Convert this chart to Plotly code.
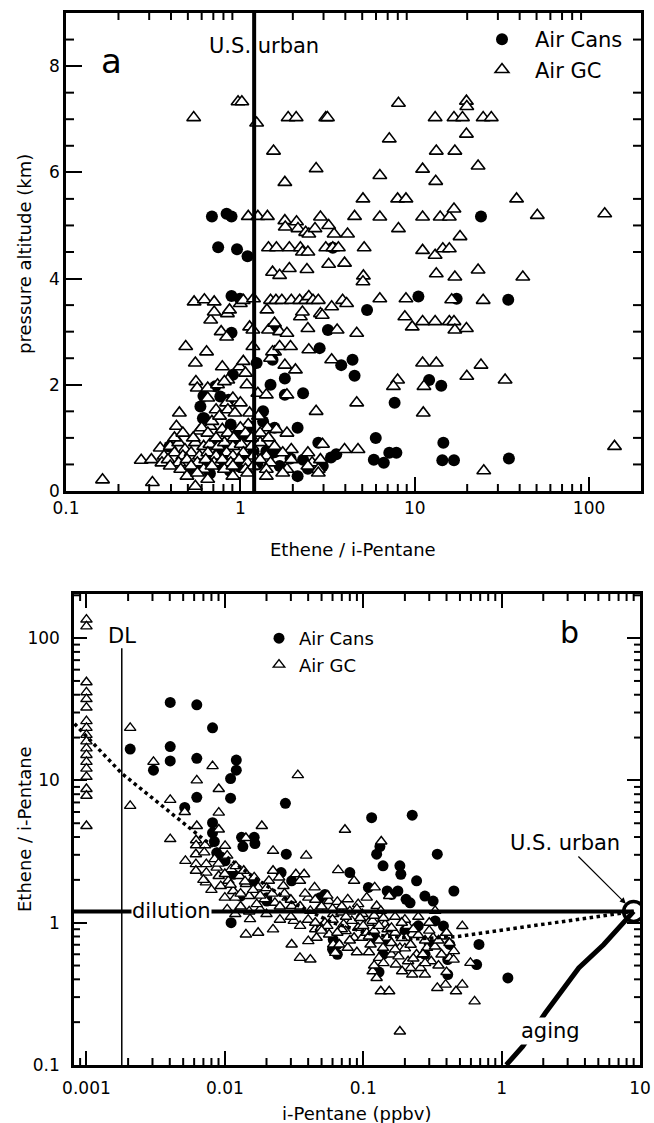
import math
import plotly.graph_objects as go

# ---------------- Panel a: pressure altitude vs Ethene / i-Pentane ----------------
a_cans = [
    (0.687, 5.17), (0.834, 5.22), (0.89, 5.17), (0.746, 4.59), (0.957, 4.55), (1.10, 4.42), (3.39, 4.58), (24.0, 5.17),
    (0.392, 0.84), (0.59, 1.59), (0.61, 1.37), (0.62, 1.37), (0.614, 1.79), (0.718, 1.97), (0.767, 1.78), (0.881, 1.25),
    (0.857, 1.72), (0.906, 2.19), (0.89, 3.67), (0.995, 3.62), (0.89, 2.98), (0.955, 1.06), (1.10, 1.03), (1.13, 1.22),
    (1.24, 2.41), (1.35, 1.50), (1.35, 1.31), (1.49, 2.00), (1.53, 2.47), (1.59, 3.06), (1.57, 1.19), (1.80, 2.12),
    (1.80, 1.81), (2.13, 1.19), (2.29, 1.84), (2.85, 2.69), (3.18, 3.03), (3.79, 2.37), (4.40, 2.47), (4.52, 2.17),
    (5.33, 3.41), (10.5, 3.66), (17.4, 3.62), (34.4, 3.60), (7.67, 1.66), (12.1, 2.09), (14.2, 1.98), (5.98, 1.00),
    (14.6, 0.91), (5.83, 0.59), (6.65, 0.53), (7.15, 0.72), (7.85, 0.72), (14.4, 0.58), (16.8, 0.58), (34.7, 0.61),
    (0.508, 0.34), (0.583, 0.41), (0.669, 0.33), (0.767, 0.50), (0.847, 0.66), (0.93, 0.59), (1.04, 0.59), (1.19, 0.75),
    (1.41, 0.75), (1.57, 0.73), (1.68, 0.47), (1.94, 0.61), (2.13, 0.28), (2.29, 0.59), (2.44, 0.42), (2.88, 0.53),
    (2.97, 0.47), (3.31, 0.63), (3.55, 0.69), (2.80, 0.91), (0.70, 0.90), (0.80, 0.80), (0.95, 0.95), (0.66, 0.56),
    (0.75, 0.70), (1.00, 0.45), (0.87, 0.38), (1.25, 0.50),
]

a_gc = [
    # upper layers
    (0.54, 7.03), (0.97, 7.33), (1.02, 7.33), (1.24, 6.93), (1.55, 6.40), (1.80, 5.81), (1.88, 7.03), (2.09, 7.03),
    (2.72, 6.07), (3.09, 7.03), (3.16, 7.03), (1.11, 5.17), (1.26, 5.17), (1.43, 5.17), (1.80, 5.09), (2.10, 5.07),
    (2.14, 4.94), (2.37, 4.87), (2.47, 4.84), (2.68, 4.94), (2.88, 5.16), (3.21, 5.00), (3.45, 4.84), (4.12, 4.84),
    (4.52, 5.17), (5.05, 5.50), (1.81, 4.97), (1.45, 4.58), (1.61, 4.58), (1.91, 4.58), (2.21, 4.58), (2.27, 4.50),
    (2.44, 4.50), (3.09, 4.58), (3.39, 4.58), (3.65, 4.58), (5.13, 4.58), (1.53, 4.12), (1.68, 4.06), (1.91, 4.19),
    (2.41, 4.17), (3.21, 4.27), (3.96, 4.29), (5.08, 4.05), (6.31, 5.94), (7.15, 6.63), (8.07, 7.30), (7.98, 5.50),
    (8.91, 5.50), (8.07, 4.94), (6.31, 5.16), (11.1, 6.06), (13.1, 7.03), (13.3, 6.40), (13.2, 5.83), (11.1, 5.16),
    (14.0, 5.16), (15.8, 5.16), (16.8, 5.31), (11.1, 4.53), (13.1, 4.44), (14.5, 4.56), (15.8, 4.56), (18.2, 4.79),
    (16.8, 7.03), (18.8, 7.03), (19.8, 7.34), (19.9, 7.24), (24.7, 7.03), (27.5, 7.03), (19.8, 6.72), (17.0, 6.40),
    (23.1, 6.12), (38.4, 5.50), (50.5, 5.19), (123.0, 5.22), (13.3, 4.09), (23.1, 4.16), (17.0, 4.03), (41.7, 4.03),
    (5.05, 3.94),
    # middle layers
    (0.162, 0.21), (0.27, 0.58), (0.313, 0.16), (0.347, 0.81), (0.43, 1.22), (0.447, 1.47), (0.486, 2.72), (0.552, 2.41),
    (0.556, 2.06), (0.543, 3.56), (0.622, 3.60), (0.708, 3.56), (0.64, 2.62), (0.676, 3.22), (0.708, 3.37), (0.776, 3.00),
    (0.834, 2.90), (0.843, 3.34), (0.867, 3.41), (0.788, 2.34), (0.847, 2.09), (1.00, 3.53), (1.04, 3.59), (1.19, 3.62),
    (0.99, 2.34), (1.04, 2.44), (1.07, 2.22), (1.09, 2.00), (1.13, 3.09), (1.18, 3.03), (1.18, 2.72), (1.42, 3.41),
    (1.45, 3.03), (1.49, 3.59), (1.57, 3.16), (1.68, 3.00), (1.57, 2.62), (1.60, 3.59), (1.73, 3.59), (1.85, 2.97),
    (1.96, 3.59), (2.19, 3.59), (2.37, 3.59), (2.47, 3.66), (2.61, 3.59), (2.80, 3.59), (2.88, 3.34), (2.95, 3.31),
    (3.34, 3.47), (3.59, 3.03), (3.86, 3.59), (4.07, 3.53), (4.65, 2.97), (1.26, 1.84), (1.41, 1.81), (1.49, 2.50),
    (1.53, 2.62), (1.68, 2.72), (1.80, 2.37), (1.85, 1.81), (1.94, 2.72), (2.07, 2.28), (2.21, 3.28), (2.27, 3.37),
    (2.44, 3.06), (2.47, 2.66), (2.72, 1.50), (3.34, 2.47), (3.96, 0.78), (4.65, 1.66), (4.73, 0.78), (6.31, 3.62),
    (8.91, 3.62), (8.78, 3.28), (9.68, 3.09), (11.1, 3.19), (13.1, 3.19), (15.8, 3.19), (16.8, 3.19), (17.0, 3.03),
    (19.8, 3.06), (24.7, 3.59), (16.3, 3.60), (7.98, 2.09), (7.55, 1.97), (11.1, 2.41), (11.3, 1.97), (13.3, 2.41),
    (19.9, 2.16), (24.0, 2.37), (33.0, 2.09), (11.2, 1.47), (24.9, 0.38), (140.0, 0.84),
    (0.58, 1.13), (0.67, 1.22), (0.687, 1.31), (0.726, 1.53), (0.76, 1.41), (0.834, 1.66), (0.848, 1.53), (0.906, 1.75),
    (0.931, 1.47), (1.00, 1.66), (1.11, 1.25), (1.13, 1.47), (1.27, 1.41), (1.43, 1.19), (0.566, 1.94), (0.65, 1.94),
    (0.74, 2.00), (0.81, 2.06), (0.65, 1.75),
    # boundary-layer cluster
    (0.396, 0.84), (0.443, 0.91), (0.481, 0.78), (0.552, 0.91), (0.616, 0.84), (0.669, 0.88), (0.746, 0.84), (0.81, 0.91),
    (0.906, 0.84), (1.01, 0.88), (1.16, 0.84), (1.30, 0.91), (1.57, 0.84), (1.96, 0.78), (2.96, 0.88),
    (0.365, 0.66), (0.419, 0.72), (0.468, 0.66), (0.522, 0.72), (0.583, 0.66), (0.651, 0.72), (0.726, 0.66), (0.834, 0.72),
    (0.906, 0.66), (1.04, 0.72), (1.19, 0.66), (1.41, 0.66), (1.75, 0.72), (2.44, 0.72),
    (0.309, 0.59), (0.355, 0.53), (0.385, 0.59), (0.443, 0.53), (0.494, 0.59), (0.567, 0.53), (0.633, 0.59), (0.706, 0.53),
    (0.788, 0.59), (0.881, 0.53), (0.984, 0.59), (1.10, 0.53), (1.30, 0.59), (1.49, 0.53), (1.96, 0.59), (2.58, 0.53),
    (2.88, 0.59),
    (0.396, 0.47), (0.455, 0.41), (0.522, 0.47), (0.616, 0.41), (0.687, 0.47), (0.81, 0.41), (0.906, 0.47), (1.07, 0.41),
    (1.19, 0.47), (1.41, 0.41), (1.85, 0.41), (2.44, 0.47), (2.80, 0.41),
    (0.494, 0.28), (0.567, 0.34), (0.906, 0.28), (1.10, 0.34), (1.41, 0.28), (2.80, 0.34), (0.65, 0.22), (1.75, 0.34),
    (0.552, 0.09),
    (0.419, 1.00), (0.468, 1.09), (0.537, 1.00), (0.60, 1.19), (0.651, 1.09), (0.726, 1.00), (0.788, 1.16), (0.848, 1.09),
    (0.916, 1.00), (1.00, 1.19), (1.07, 1.09), (1.16, 1.00), (1.30, 1.09), (1.45, 1.00), (1.61, 1.16), (1.85, 1.09),
]

us_urban_ratio = 1.2          # Ethene / i-Pentane in U.S. urban air
a_alt_range = [0, 9]          # km
a_x_range_log = [-1, 2.298]
a_x_minor = [m * d for d in (0.1, 1, 10, 100) for m in range(2, 10)]
a_y_minor = [i * 0.5 for i in range(1, 18) if i % 4 != 0]

# ---------------- Panel b: Ethene / i-Pentane vs i-Pentane ----------------
b_cans = [
    (0.00207, 16.6), (0.00305, 11.8), (0.00403, 35.3), (0.00403, 17.3), (0.00403, 13.7), (0.00627, 34.0), (0.00627, 14.3),
    (0.00513, 6.46), (0.00627, 7.6), (0.00815, 23.4), (0.011, 10.3), (0.011, 7.5), (0.0121, 13.9), (0.0121, 11.8),
    (0.00815, 5.04), (0.00815, 4.28), (0.0084, 3.72), (0.0135, 3.43), (0.0165, 3.6), (0.0274, 6.9), (0.115, 5.47),
    (0.226, 5.7), (0.132, 3.43),
    (0.0132, 3.98), (0.0163, 3.98), (0.00873, 3.1), (0.00903, 2.85), (0.01004, 2.72), (0.0115, 2.19), (0.013, 1.54),
    (0.0163, 1.97), (0.0201, 1.42), (0.0255, 2.25), (0.0278, 3.03), (0.0304, 1.97), (0.0487, 1.50), (0.0607, 0.761),
    (0.065, 0.703), (0.08, 2.25), (0.109, 1.77), (0.125, 3.03), (0.139, 2.51), (0.149, 1.67), (0.16, 1.58), (0.178, 1.67),
    (0.184, 2.51), (0.187, 2.19), (0.204, 1.46), (0.218, 1.38), (0.243, 1.97), (0.279, 1.54), (0.32, 1.42), (0.343, 3.03),
    (0.452, 1.67), (0.331, 1.03), (0.38, 0.947), (0.422, 0.703), (0.408, 0.551), (0.408, 0.432), (0.686, 0.703),
    (0.66, 0.508), (1.11, 0.409), (0.0111, 1.0), (0.139, 0.598), (0.0529, 1.58), (0.0201, 1.50),
    (0.06, 0.65), (0.065, 0.6), (0.13, 0.45), (0.25, 0.95), (0.28, 0.6), (0.12, 0.8), (0.15, 0.75), (0.2, 0.88), (0.3, 0.7),
]

b_gc = [
    # at detection limit column
    (0.001, 135), (0.001, 121), (0.001, 49), (0.001, 41.6), (0.001, 37.3), (0.001, 32.5), (0.001, 26.1), (0.001, 23.4),
    (0.001, 20.9), (0.001, 18.8), (0.001, 16.8), (0.001, 15.1), (0.001, 13.5), (0.001, 12.1), (0.001, 10.6), (0.001, 8.7),
    (0.001, 7.8), (0.001, 4.78),
    (0.00207, 23.4), (0.00207, 6.62), (0.00305, 13.5), (0.00403, 7.3), (0.00403, 3.87), (0.00513, 6.0), (0.00627, 10.0),
    (0.00627, 4.78), (0.00815, 12.6), (0.00904, 8.7), (0.00904, 5.94), (0.00904, 4.52), (0.0142, 3.94), (0.0185, 4.78),
    (0.0337, 10.9), (0.0738, 4.5), (0.135, 3.72), (0.0062, 3.8), (0.0062, 3.5), (0.0072, 3.5),
    # upper-left branch
    (0.00519, 2.72), (0.00618, 3.03), (0.00618, 2.58), (0.00618, 2.32), (0.0071, 3.12), (0.00735, 2.58), (0.00735, 2.25),
    (0.0073, 1.92), (0.00843, 2.80), (0.00873, 2.44), (0.00903, 2.13), (0.00934, 1.81), (0.01004, 3.47), (0.0104, 2.96),
    (0.0106, 1.97), (0.0111, 2.38), (0.0115, 1.67), (0.0119, 1.50), (0.0128, 2.13), (0.0137, 2.32), (0.0142, 1.87),
    (0.015, 1.54), (0.0163, 2.08), (0.0174, 1.77), (0.018, 1.24), (0.0194, 1.46), (0.0208, 1.97), (0.0223, 3.2),
    (0.0223, 2.32), (0.023, 1.38), (0.0247, 2.08), (0.0265, 1.81), (0.0284, 1.50), (0.0304, 1.31), (0.0315, 1.03),
    (0.0326, 2.19), (0.0349, 1.97), (0.0387, 2.96), (0.0374, 2.19), (0.0401, 1.50), (0.0415, 1.21), (0.0445, 1.77),
    (0.0477, 1.24), (0.0529, 1.0), (0.0567, 1.42), (0.0607, 1.15), (0.0659, 2.34), (0.0697, 1.18), (0.0721, 0.973),
    (0.0773, 1.46), (0.0828, 1.03), (0.0859, 1.97), (0.0919, 1.35), (0.0985, 1.15), (0.106, 1.50), (0.109, 1.0),
    (0.117, 1.03), (0.121, 1.77), (0.125, 1.31), (0.134, 1.21), (0.144, 0.973), (0.154, 1.54),
    (0.0142, 0.827), (0.0174, 0.85), (0.0223, 0.897), (0.0152, 1.06), (0.0104, 1.24), (0.0119, 1.15),
    (0.007, 2.0), (0.008, 1.7), (0.009, 2.6), (0.01, 2.2), (0.011, 1.85), (0.012, 2.5), (0.013, 1.6), (0.014, 1.95),
    (0.016, 1.7), (0.018, 1.55), (0.02, 1.75), (0.022, 1.6), (0.025, 1.3), (0.027, 1.6), (0.03, 1.45), (0.035, 1.3),
    (0.038, 1.6), (0.045, 1.45), (0.05, 1.3), (0.055, 1.55), (0.06, 1.25), (0.065, 1.4), (0.07, 1.3), (0.08, 1.2),
    (0.09, 1.25), (0.01, 1.5), (0.013, 1.3), (0.015, 1.2), (0.017, 1.35), (0.02, 1.15), (0.025, 1.05), (0.03, 1.1),
    (0.035, 0.95), (0.04, 1.05), (0.045, 0.9),
    # lower cluster
    (0.0304, 0.703), (0.0349, 0.566), (0.0415, 0.551), (0.0401, 0.742), (0.046, 0.784), (0.0494, 0.922), (0.0567, 0.827),
    (0.0607, 0.703), (0.0628, 0.614), (0.0672, 0.703), (0.0746, 0.873), (0.0773, 0.666), (0.0859, 0.784), (0.0919, 0.922),
    (0.0985, 0.784), (0.106, 0.85), (0.113, 0.703), (0.117, 0.456), (0.125, 0.409), (0.13, 0.566), (0.134, 0.33),
    (0.154, 0.33), (0.139, 0.666), (0.149, 0.784), (0.16, 0.598), (0.172, 0.508), (0.184, 0.666), (0.191, 0.456),
    (0.204, 0.784), (0.211, 0.536), (0.226, 0.432), (0.243, 0.598), (0.26, 0.481), (0.279, 0.432), (0.289, 0.666),
    (0.31, 0.536), (0.32, 0.784), (0.331, 1.21), (0.343, 0.348), (0.368, 0.598), (0.394, 0.367), (0.422, 0.566),
    (0.452, 0.631), (0.468, 0.33), (0.52, 0.947), (0.52, 0.367), (0.595, 0.522), (0.638, 0.28), (0.184, 0.172),
    (0.07, 0.9), (0.08, 0.75), (0.09, 0.62), (0.1, 0.95), (0.11, 0.62), (0.12, 0.88), (0.13, 0.75), (0.14, 0.52),
    (0.15, 0.9), (0.16, 0.72), (0.17, 0.85), (0.18, 0.58), (0.19, 0.78), (0.2, 0.66), (0.21, 0.95), (0.22, 0.7),
    (0.23, 0.56), (0.25, 0.82), (0.27, 0.6), (0.28, 0.75), (0.3, 0.88), (0.33, 0.68), (0.35, 0.5), (0.38, 0.8),
    (0.4, 0.45), (0.42, 0.72), (0.45, 0.55), (0.06, 1.05), (0.075, 1.1), (0.095, 1.08), (0.12, 1.12), (0.14, 1.08),
    (0.17, 1.1), (0.2, 1.05), (0.25, 1.1), (0.3, 1.0), (0.11, 0.8), (0.13, 0.95), (0.16, 0.92), (0.19, 1.0), (0.23, 0.9),
    (0.055, 0.95), (0.065, 0.85), (0.045, 1.0), (0.05, 0.88), (0.12, 0.5), (0.17, 0.65), (0.22, 0.48), (0.28, 0.52),
    (0.35, 0.75), (0.4, 0.85),
]

us_urban_ipentane = 9.0       # ppbv
dl_ipentane = 0.0018          # detection limit, ppbv
dl_line_top = 85
mix_x = [0.00082, 0.0018, 0.0066, 0.015, 0.03, 0.06, 0.12, 0.25, 0.48, 9.0]
mix_y = [25.0, 11.2, 4.05, 2.2, 1.4, 1.0, 0.82, 0.77, 0.80, 1.2]
aging_x = [1.08, 1.42, 2.07, 3.61, 5.47, 7.74, 9.0]
aging_y = [0.10, 0.135, 0.232, 0.481, 0.703, 1.03, 1.2]
b_x_range_log = [-3.09, 1.0]
b_y_range_log = [-1.0, 2.31]
b_x_minor = [m * d for d in (0.0001, 0.001, 0.01, 0.1, 1) for m in range(2, 10)]
b_y_minor = [m * d for d in (0.1, 1, 10, 100) for m in range(2, 10)]

# ---------------- figure ----------------
W, H = 654, 1123
FONT = "DejaVu Sans"
A_BOX = (66, 641, 13, 491)     # left, right, top, bottom (px)
B_BOX = (74, 640, 594, 1065)


def px(x):
    return x / W


def py(y):
    return 1 - y / H


def xs(pts):
    return [p[0] for p in pts]


def ys(pts):
    return [p[1] for p in pts]


fig = go.Figure()

circ_a = dict(symbol="circle", size=12, color="black", line=dict(width=0))
tri_a = dict(symbol="triangle-up", size=12, color="white", line=dict(color="black", width=1.6))
circ_b = dict(symbol="circle", size=11, color="black", line=dict(width=0))
tri_b = dict(symbol="triangle-up", size=10, color="white", line=dict(color="black", width=1.4))

fig.add_trace(go.Scatter(x=xs(a_cans), y=ys(a_cans), mode="markers", marker=circ_a, name="Air Cans",
                         xaxis="x", yaxis="y", legend="legend"))
fig.add_trace(go.Scatter(x=xs(a_gc), y=ys(a_gc), mode="markers", marker=tri_a, name="Air GC",
                         xaxis="x", yaxis="y", legend="legend"))
fig.add_trace(go.Scatter(x=[us_urban_ratio, us_urban_ratio], y=a_alt_range, mode="lines",
                         line=dict(color="black", width=4), showlegend=False, xaxis="x", yaxis="y"))

fig.add_trace(go.Scatter(x=xs(b_cans), y=ys(b_cans), mode="markers", marker=circ_b, name="Air Cans",
                         xaxis="x2", yaxis="y2", legend="legend2"))
fig.add_trace(go.Scatter(x=xs(b_gc), y=ys(b_gc), mode="markers", marker=tri_b, name="Air GC",
                         xaxis="x2", yaxis="y2", legend="legend2"))
fig.add_trace(go.Scatter(x=[10 ** b_x_range_log[0], us_urban_ipentane], y=[us_urban_ratio, us_urban_ratio],
                         mode="lines", line=dict(color="black", width=4), showlegend=False, xaxis="x2", yaxis="y2"))
fig.add_trace(go.Scatter(x=[dl_ipentane, dl_ipentane], y=[10 ** b_y_range_log[0], dl_line_top], mode="lines",
                         line=dict(color="black", width=1.5), showlegend=False, xaxis="x2", yaxis="y2"))
fig.add_trace(go.Scatter(x=mix_x, y=mix_y, mode="lines", line=dict(color="black", width=3.5, dash="dot"),
                         showlegend=False, xaxis="x2", yaxis="y2"))
fig.add_trace(go.Scatter(x=aging_x, y=aging_y, mode="lines", line=dict(color="black", width=5),
                         showlegend=False, xaxis="x2", yaxis="y2"))
fig.add_trace(go.Scatter(x=[us_urban_ipentane], y=[us_urban_ratio], mode="markers",
                         marker=dict(symbol="circle-open", size=20, color="black", line=dict(width=3.5)),
                         showlegend=False, xaxis="x2", yaxis="y2"))


# ---- minor tick marks (inside, on all four sides) as line traces through the axis scales ----
def minor_segments(vals, length_px, along_rng, along_log, across_rng, across_log, span_px, vertical):
    lo, hi = across_rng
    d = (hi - lo) * length_px / span_px
    inv = (lambda c: 10 ** c) if across_log else (lambda c: c)
    afwd = (lambda v: math.log10(v)) if along_log else (lambda v: v)
    p, q = [], []
    for v in vals:
        if not (along_rng[0] < afwd(v) < along_rng[1]):
            continue
        for start, end in ((lo, lo + d), (hi, hi - d)):
            p += [v, v, None]
            q += [inv(start), inv(end), None]
    return (p, q) if vertical else (q, p)


def add_ticks(xref, yref, segs):
    fig.add_trace(go.Scatter(x=segs[0], y=segs[1], mode="lines", line=dict(color="black", width=2),
                             hoverinfo="skip", showlegend=False, xaxis=xref, yaxis=yref))


a_w, a_h = A_BOX[1] - A_BOX[0], A_BOX[3] - A_BOX[2]
b_w, b_h = B_BOX[1] - B_BOX[0], B_BOX[3] - B_BOX[2]
add_ticks("x", "y", minor_segments(a_x_minor, 7, a_x_range_log, True, a_alt_range, False, a_h, True))
add_ticks("x", "y", minor_segments(a_y_minor, 8, a_alt_range, False, a_x_range_log, True, a_w, False))
add_ticks("x2", "y2", minor_segments(b_x_minor, 7, b_x_range_log, True, b_y_range_log, True, b_h, True))
add_ticks("x2", "y2", minor_segments(b_y_minor, 6, b_y_range_log, True, b_x_range_log, True, b_w, False))


def make_axis(**kw):
    base = dict(showline=True, linewidth=2.5, linecolor="black", ticks="inside",
                tickwidth=2, tickcolor="black", showgrid=False, zeroline=False, automargin=False,
                showticklabels=True, tickfont=dict(family=FONT, size=17, color="black"))
    base.update(kw)
    return base


fig.update_layout(
    width=W, height=H, margin=dict(l=0, r=0, t=0, b=0, autoexpand=False),
    paper_bgcolor="white", plot_bgcolor="white",
    font=dict(family=FONT, color="black"),
    xaxis=make_axis(type="log", range=a_x_range_log, dtick=1, ticklen=14, anchor="y", mirror=True,
                    domain=[px(A_BOX[0]), px(A_BOX[1])]),
    yaxis=make_axis(range=a_alt_range, dtick=2, ticklen=16, anchor="x", mirror=True,
                    domain=[py(A_BOX[3]), py(A_BOX[2])]),
    xaxis2=make_axis(type="log", range=b_x_range_log, dtick=1, ticklen=14, anchor="y2", mirror="ticks",
                     domain=[px(B_BOX[0]), px(B_BOX[1])], ticklabelstandoff=6),
    yaxis2=make_axis(type="log", range=b_y_range_log, dtick=1, ticklen=13, anchor="x2", mirror="ticks",
                     domain=[py(B_BOX[3]), py(B_BOX[2])], ticklabelstandoff=8),
    legend=dict(x=px(469), y=py(19), xanchor="left", yanchor="top", bgcolor="rgba(0,0,0,0)",
                font=dict(family=FONT, size=21), tracegroupgap=0, itemwidth=56),
    legend2=dict(x=px(259), y=py(620), xanchor="left", yanchor="top", bgcolor="rgba(0,0,0,0)",
                 font=dict(family=FONT, size=18), tracegroupgap=0),
    showlegend=True,
)


def label(text, x, y, xref="paper", yref="paper", size=18, **kw):
    d = dict(text=text, x=x, y=y, xref=xref, yref=yref, showarrow=False, xanchor="center",
             yanchor="middle", font=dict(family=FONT, size=size, color="black"))
    d.update(kw)
    return d


ann = [
    # axis titles
    label("Ethene / i-Pentane", px(353), py(549)),
    label("pressure altitude (km)", px(24), py(254), textangle=-90),
    label("Ethene / i-Pentane", px(24), py(829), textangle=-90),
    label("i-Pentane (ppbv)", px(357), py(1113)),
    # panel a labels
    label("a", math.log10(0.183), 8.09, "x", "y", size=34),
    label("U.S. urban", math.log10(1.36), 8.38, "x", "y", size=21),
    # panel b labels
    label("b", math.log10(3.1), math.log10(110), "x2", "y2", size=30),
    label("DL", math.log10(dl_ipentane), math.log10(103), "x2", "y2", size=21),
    label("dilution", math.log10(0.00415), math.log10(us_urban_ratio), "x2", "y2", size=21,
          bgcolor="white", borderpad=0),
    label("aging", math.log10(2.25), math.log10(0.172), "x2", "y2", size=21, bgcolor="white", borderpad=1),
    label("U.S. urban", math.log10(2.88), math.log10(3.63), "x2", "y2", size=21),
    dict(text="", x=math.log10(7.9), y=math.log10(1.36), ax=math.log10(3.5), ay=math.log10(2.99),
         xref="x2", yref="y2", axref="x2", ayref="y2", showarrow=True, arrowhead=2, arrowsize=1,
         arrowwidth=1.2, arrowcolor="black"),
]
fig.update_layout(annotations=ann)

fig.write_html("out.html")
